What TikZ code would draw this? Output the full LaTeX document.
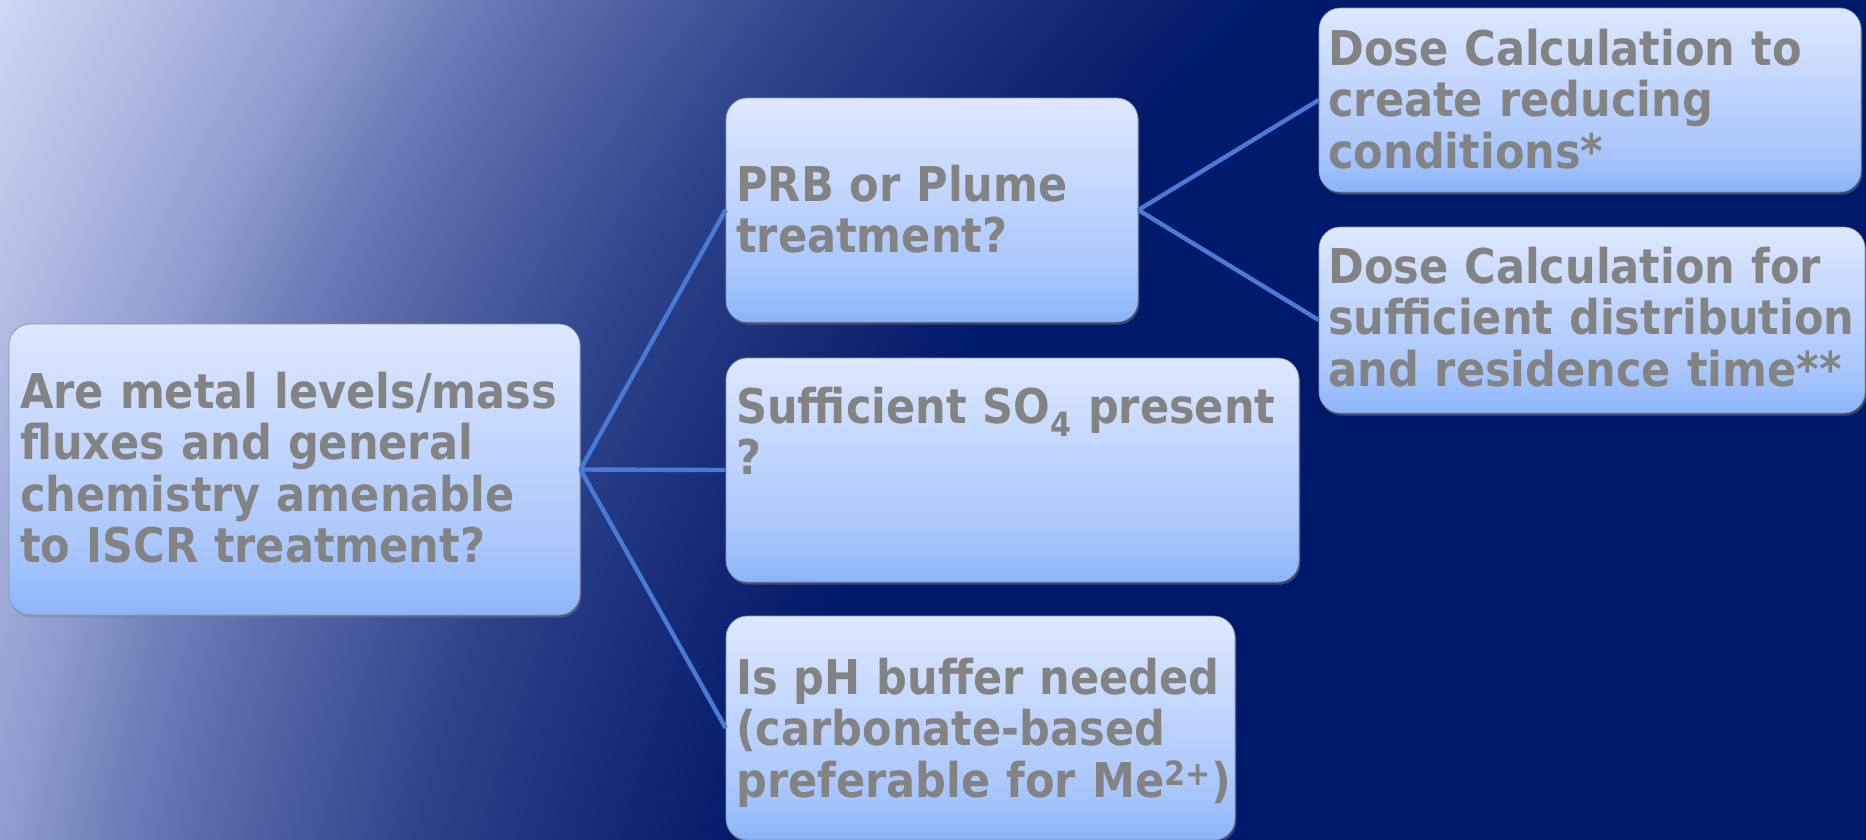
\documentclass[tikz,border=0pt]{standalone}
\usepackage{fontspec}
\setmainfont{DejaVu Sans Condensed}
\usetikzlibrary{shadows}
\definecolor{navy}{HTML}{001A6B}
\definecolor{bg0}{HTML}{CDD8F5}
\definecolor{bg1}{HTML}{B0BBE2}
\definecolor{bg2}{HTML}{8E9CCF}
\definecolor{bg3}{HTML}{6F7FB8}
\definecolor{bg4}{HTML}{5565A5}
\definecolor{bg5}{HTML}{45589C}
\definecolor{bg6}{HTML}{2C428A}
\definecolor{bg7}{HTML}{1A2E7A}
\definecolor{bg8}{HTML}{0B216F}
\definecolor{boxtop}{HTML}{DDE8FE}
\definecolor{boxmid}{HTML}{C3D6FD}
\definecolor{boxlow}{HTML}{A9C6FC}
\definecolor{boxbot}{HTML}{8CB4FA}
\definecolor{boxedge}{HTML}{8A94AA}
\definecolor{txtgray}{HTML}{838383}
\definecolor{linkblue}{HTML}{4A7AD6}
\pgfdeclareradialshading{bgrad}{\pgfpointorigin}{color(0bp)=(navy); color(15.8bp)=(navy); color(16.35bp)=(bg8); color(17.25bp)=(bg7); color(18.45bp)=(bg6); color(19.4bp)=(bg5); color(20.01bp)=(bg4); color(20.98bp)=(bg3); color(21.79bp)=(bg2); color(23.03bp)=(bg1); color(24.28bp)=(bg0); color(25bp)=(bg0); color(50bp)=(bg0)}
\pgfdeclareverticalshading{boxshade}{100bp}{color(0bp)=(boxbot); color(25bp)=(boxbot); color(36bp)=(boxlow); color(55bp)=(boxmid); color(75bp)=(boxtop); color(100bp)=(boxtop)}
\newlength\calw
\newsavebox\calbox
\begin{document}
\sbox\calbox{\fontsize{10pt}{12pt}\selectfont\bfseries Are metal levels/mass}%
\setlength\calw{\wd\calbox}%
\pgfmathsetmacro\fsz{4012.5/\calw}%
\begin{tikzpicture}[x=0.75pt,y=-0.75pt,
  box/.style={rectangle, rounded corners=16pt, shading=boxshade, draw=boxedge, line width=0.5pt,
    drop shadow={shadow xshift=1pt, shadow yshift=-2pt, opacity=0.45}, inner sep=0pt},
  txt/.style={font=\fontsize{\fsz pt}{38.7pt}\selectfont\bfseries, text=txtgray, align=left,
    text width=600pt, inner sep=0pt, anchor=base west},
  conn/.style={draw=linkblue, line width=3.3pt}]
\useasboundingbox (0,0) rectangle (1866,839);
\begin{scope}
\clip (0,0) rectangle (1866,839);
\shade[shading=bgrad] (2570,1372) circle[radius=3000];
\end{scope}
% boxes
\node[box, minimum width=428.25pt, minimum height=218.25pt] (b1) at (294.5,469.5) {};
\node[box, minimum width=309pt, minimum height=168pt] (b2) at (932,210) {};
\node[box, minimum width=429.75pt, minimum height=168pt] (b3) at (1012.5,470) {};
\node[box, minimum width=381.75pt, minimum height=168pt] (b4) at (980.5,728) {};
\node[box, minimum width=406.5pt, minimum height=138pt] (b5) at (1590,100) {};
\node[box, minimum width=409.5pt, minimum height=139.5pt] (b6) at (1592,320) {};
% texts
\node[txt] (t1) at (20,408) {Are metal levels/mass\\fluxes and general\\chemistry amenable\\to ISCR treatment?};
\node[txt] (t2) at (736,201) {PRB or Plume\\treatment?};
\node[txt] (t3) at (736,423) {Sufficient SO\textsubscript{4} present\\?};
\node[txt] (t4) at (736,694) {Is pH buffer needed\\(carbonate-based\\preferable for Me\textsuperscript{2+})};
\node[txt] (t5) at (1328,65) {Dose Calculation to\\create reducing\\conditions*};
\node[txt] (t6) at (1328,283) {Dose Calculation for\\sufficient distribution\\and residence time**};
% connectors
\draw[conn] (b1.east) -- (b2.west);
\draw[conn] (b1.east) -- (b3.west);
\draw[conn] (b1.east) -- (b4.west);
\draw[conn] (b2.east) -- (b5.west);
\draw[conn] (b2.east) -- (b6.west);
\end{tikzpicture}
\end{document}
